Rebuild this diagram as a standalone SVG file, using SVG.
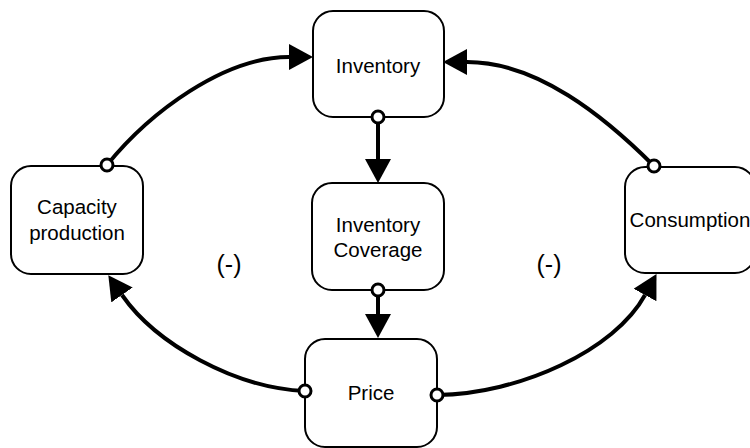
<svg xmlns="http://www.w3.org/2000/svg" width="750" height="448" viewBox="0 0 750 448">
  <defs>
    <style>
      .box { fill: #ffffff; stroke: #000000; stroke-width: 2; }
      .label { font-family: "Liberation Sans", Arial, Helvetica, sans-serif; font-size: 20.5px; fill: #000000; text-anchor: middle; }
      .sign { font-family: "Liberation Sans", Arial, Helvetica, sans-serif; font-size: 25px; fill: #000000; text-anchor: middle; }
      .link { fill: none; stroke: #000000; stroke-width: 4; }
      .port { fill: #ffffff; stroke: #000000; stroke-width: 3; }
    </style>
    <marker id="arrow" viewBox="0 0 24 26" refX="0" refY="13" markerWidth="24" markerHeight="26" markerUnits="userSpaceOnUse" orient="auto">
      <path d="M0,0 L24,13 L0,26 Z" fill="#000000"/>
    </marker>
  </defs>

  <rect width="750" height="448" fill="#ffffff"/>

  <!-- nodes -->
  <g id="inventory">
    <rect class="box" x="313" y="11" width="131" height="106" rx="20" ry="20"/>
    <text class="label" x="378" y="73">Inventory</text>
  </g>
  <g id="capacity-production">
    <rect class="box" x="11" y="166" width="132" height="108" rx="20" ry="20"/>
    <text class="label" x="77" y="214">Capacity</text>
    <text class="label" x="77" y="240">production</text>
  </g>
  <g id="inventory-coverage">
    <rect class="box" x="312" y="183" width="132" height="107" rx="20" ry="20"/>
    <text class="label" x="378" y="232">Inventory</text>
    <text class="label" x="378" y="257">Coverage</text>
  </g>
  <g id="price">
    <rect class="box" x="305" y="339" width="132" height="108" rx="20" ry="20"/>
    <text class="label" x="371" y="400">Price</text>
  </g>
  <g id="consumption">
    <rect class="box" x="625" y="167" width="130" height="106" rx="20" ry="20"/>
    <text class="label" x="690" y="227">Consumption</text>
  </g>

  <!-- loop polarity labels -->
  <text class="sign" x="229" y="273">(-)</text>
  <text class="sign" x="549" y="273">(-)</text>

  <!-- connectors -->
  <g id="connectors">
    <path class="link" d="M107,165 C150,112 224,57 289,57" marker-end="url(#arrow)"/>
    <path class="link" d="M654,166 C604,116 537,62 467,62" marker-end="url(#arrow)"/>
    <path class="link" d="M378,117 L378,159" marker-end="url(#arrow)"/>
    <path class="link" d="M378,290 L378,314" marker-end="url(#arrow)"/>
    <path class="link" d="M305,391 C235,388 156,344 122,295" marker-end="url(#arrow)"/>
    <path class="link" d="M437,395 C520,394 615,350 645,295" marker-end="url(#arrow)"/>

    <circle class="port" cx="107" cy="165" r="6"/>
    <circle class="port" cx="654" cy="166" r="6"/>
    <circle class="port" cx="378" cy="117" r="6"/>
    <circle class="port" cx="378" cy="290" r="6"/>
    <circle class="port" cx="305" cy="391" r="6"/>
    <circle class="port" cx="437" cy="395" r="6"/>
  </g>
</svg>
